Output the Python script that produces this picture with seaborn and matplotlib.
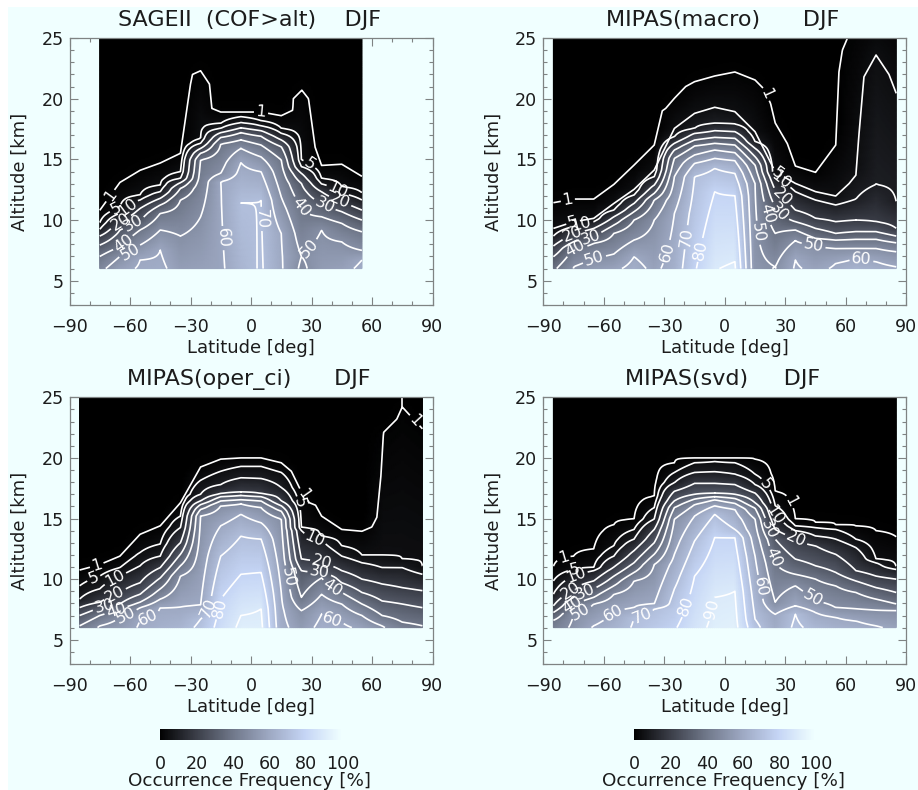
import numpy as np
import matplotlib
matplotlib.use("Agg")
import matplotlib.pyplot as plt
from matplotlib.patches import Rectangle
from matplotlib.ticker import MultipleLocator
import seaborn as sns

N = np.nan
LEVELS = [1, 5, 10, 20, 30, 40, 50, 60, 70, 80, 90]

lat_sage = [-75, -65, -55, -45, -35, -25, -15, -5, 5, 15, 25, 35, 45, 55]
lat_mipas = [-85, -75, -65, -55, -45, -35, -25, -15, -5, 5, 15, 25, 35, 45, 55, 65, 75, 85]

# Frequency at the lowest altitude (6 km), per latitude
sage_base = [47, 57, 61, 62, 56, 57, 58.5, 66, 71, 61, 48, 55, 57, 62]
macro_base = [38, 50, 55, 58, 63, 58, 64, 79, 89.7, 91, 53, 49.5, 61, 58, 61, 65, 63, 61]
oper_base = [42, 51, 55, 61, 64, 66, 72, 84, 92, 92, 63, 55, 63, 62, 58, 51, 44, 41]
svd_base = [44, 52, 61, 65, 71, 75, 79, 87, 92, 93, 73, 62, 72, 67, 64, 63, 61, 58]

# Altitude (km) of each contour level, per latitude
sage_alt = {
    1: [10.8, 13.1, 14.1, 14.7, 15.5, 22.3, 18.9, 18.9, 18.9, 18.6, 20.7, 14.5, 14.6, 13.6],
    5: [9.78, 11.04, 12.06, 12.88, 13.98, 16.73, 17.97, 18.52, 18.19, 17.55, 14.95, 13.43, 12.75, 12.25],
    10: [9.23, 10.55, 11.65, 12.33, 13.43, 16.32, 17.55, 18.02, 17.75, 17.14, 14.4, 12.97, 12.2, 11.65],
    20: [8.68, 9.86, 10.96, 11.79, 13.08, 15.9, 17.2, 17.6, 17.36, 16.6, 13.85, 12.33, 11.5, 10.82],
    30: [7.94, 9.18, 10, 11.24, 12.6, 15.5, 16.8, 17.2, 16.9, 16.04, 13.02, 11.37, 10.69, 10],
    40: [7, 7.8, 9.18, 10.55, 11.65, 14.95, 16.26, 16.6, 16.18, 14.95, 10.96, 10.27, 9.73, 9.04],
    50: [N, 7, 7.94, 9.18, 8.68, 10.27, 13.85, 15.9, 15.2, 11.9, 7, 9.18, 8.2, 7.5],
    60: [N, N, 6.7, 7.5, N, N, 13.16, 14.73, 13.98, 8.9, N, N, N, 6.7],
    70: [N, N, N, N, N, N, N, 11.4, 11.65, N, N, N, N, N],
}
macro_alt = {
    1: [11.43, 11.73, 11.73, 12.94, 14.53, 16.18, 20.03, 21.4, 21.87, 22.2, 21.54, 17.97, 14.45, 13.93, 16.18, 27, 27, 27],
    5: [9.31, 9.86, 10.14, 11.37, 12.53, 14.12, 17.55, 18.79, 19.29, 18.93, 17.28, 13.98, 13.02, 12.34, 11.98, 14.4, 23.6, 20.44],
    10: [8.68, 9.45, 9.86, 10.82, 12.06, 13.57, 16.87, 17.55, 17.97, 17.91, 16.46, 13.57, 12.34, 11.65, 11.24, 11.73, 12.94, 11.51],
    20: [7.86, 8.9, 9.31, 10.27, 11.37, 12.88, 16.32, 17.14, 17.36, 17.28, 15.91, 12.47, 10.82, 10.14, 9.86, 10, 9.86, 9.31],
    30: [6.98, 8.21, 8.63, 9.59, 10.69, 12.2, 15.77, 16.59, 16.81, 16.73, 15.22, 11.1, 9.86, 9.31, 8.9, 9.04, 9.04, 8.68],
    40: [N, 7.66, 8.08, 8.9, 10, 11.65, 15.08, 16.1, 16.32, 16.18, 14.53, 8.9, 9.18, 8.49, 8.35, 8.41, 8.41, 8.13],
    50: [N, 6.15, 6.84, 7.2, 8.35, 10, 13.57, 15.36, 15.77, 15.55, 13.0, 6.15, 8.3, 7.94, 7.66, 7.66, 7.66, 7.39],
    60: [N, N, N, N, 6.98, N, 10.55, 14.67, 15.08, 14.89, N, N, 6.7, N, 6.43, 6.84, 6.57, 6.15],
    70: [N, N, N, N, N, N, N, 13.57, 14.26, 13.85, N, N, N, N, N, N, N, N],
    80: [N, N, N, N, N, N, N, N, 12.34, 12.0, N, N, N, N, N, N, N, N],
    90: [N, N, N, N, N, N, N, N, N, 6.57, N, N, N, N, N, N, N, N],
}
oper_alt = {
    1: [10.75, 11.2, 11.9, 13.7, 14.4, 16.3, 19.25, 19.9, 20, 20, 19.6, 17.25, 15.2, 14.1, 13.95, 22, 24, 22.3],
    5: [9.45, 10.25, 10.95, 12.2, 12.9, 15.2, 18.15, 18.9, 19.3, 19.3, 18.8, 14.25, 13.55, 12.75, 12, 12, 11.65, 11.05],
    10: [8.35, 9.2, 10.25, 11.1, 11.9, 14.25, 17, 17.8, 18.35, 18.3, 17.55, 14, 13.15, 11.9, 11.35, 10.95, 10.95, 10.4],
    20: [7.65, 8.1, 8.9, 9.7, 10.95, 13, 16.45, 17.05, 17.2, 17.05, 16.45, 11.65, 11.35, 10.7, 10, 9.6, 9.3, 9.05],
    30: [7, 7.65, 7.95, 8.75, 10.1, 12.05, 16.15, 16.8, 16.9, 16.8, 16.05, 10.7, 10.55, 9.7, 8.9, 8.2, 7.95, 7.65],
    40: [6.15, 7, 7.55, 8.1, 9.2, 11.1, 15.75, 16.45, 16.55, 16.45, 15.6, 8.5, 10.1, 8.9, 7.95, 7, 6.45, 6.15],
    50: [N, 6.15, 6.85, 7.65, 8.35, 10.25, 15.2, 16.05, 16.2, 15.9, 14.95, 7.4, 8.75, 7.95, 7, 6.15, N, N],
    60: [N, N, N, 6.7, 7.65, 7.7, 7.85, 14.4, 15.35, 14.65, 8.9, N, 7.1, 6.45, N, N, N, N],
    70: [N, N, N, N, N, N, 6.7, 11.9, 13.55, 13.3, N, N, N, N, N, N, N, N],
    80: [N, N, N, N, N, N, N, 8.35, 10.4, 10.55, N, N, N, N, N, N, N, N],
    90: [N, N, N, N, N, N, N, N, 7, 7.55, N, N, N, N, N, N, N, N],
}
svd_alt = {
    1: [11.05, 11.9, 12.5, 14.5, 14.95, 16.85, 19.6, 20, 20, 20, 19.9, 17.25, 14.95, 14.7, 14.5, 14.4, 14, 13.5],
    5: [9.85, 10.8, 10.95, 12.75, 14.1, 15.9, 18.8, 19.6, 19.7, 19.6, 18.65, 16.05, 14.4, 14.25, 14.1, 13.3, 11.65, 11.05],
    10: [8.75, 10.25, 10.7, 11.9, 13.3, 14.95, 17.95, 18.8, 18.85, 18.65, 17.8, 15.2, 14, 13.55, 13.3, 12.6, 11.35, 10.8],
    20: [7.8, 9.2, 9.85, 11, 12.35, 14.1, 17.25, 17.9, 17.9, 17.8, 17.1, 14.1, 13.3, 12.75, 12.05, 10.7, 10.25, 10],
    30: [7.25, 8.5, 9.2, 10.25, 11.35, 13, 16.45, 17, 17.1, 17, 16.3, 13.3, 11.65, 11.1, 10.55, 9.85, 9.3, 8.9],
    40: [6.6, 7.95, 8.5, 9.45, 10.55, 12.05, 15.9, 16.6, 16.8, 16.65, 15.85, 11.35, 10.4, 10, 9.45, 8.9, 8.35, 7.95],
    50: [N, 7.1, 7.95, 8.75, 9.85, 11.2, 14.95, 16.15, 16.55, 16.25, 14.95, 8.1, 9.45, 8.2, 7.65, 7.55, 7.45, 7.4],
    60: [N, N, 6.15, 7.25, 7.65, 7.95, 12.05, 15.2, 16.05, 15.75, 11.9, 7.1, 7.8, 7.25, 6.85, 6.55, 6.15, N],
    70: [N, N, N, N, 6.85, 7.55, 9.2, 13.15, 15.35, 14.1, 6.7, N, 7.1, N, N, N, N, N],
    80: [N, N, N, N, N, N, N, 10.25, 13.45, 13.4, N, N, N, N, N, N, N, N],
    90: [N, N, N, N, N, N, N, N, 8.5, 9, N, N, N, N, N, N, N, N],
}

# Steep low-frequency contours, read at their own kinks
sage_line1_lat = [-75, -65, -55, -45, -35, -30, -29, -25, -20.6, -19.4, -15, -5, 5, 15, 20.7, 21, 25.2, 28.5, 31.8, 35, 45, 55]
sage_line1_alt = [10.8, 13.1, 14.1, 14.7, 15.5, 21.2, 22, 22.3, 21.2, 19.2, 18.9, 18.9, 18.9, 18.6, 19.05, 20, 20.7, 20, 16, 14.5, 14.6, 13.6]
macro_line1_lat = [-85, -75, -65, -55, -45, -35, -31, -29.3, -25, -19.4, -15, -5, 5, 15, 19.4, 22.7, 25, 31, 35, 45, 55, 56.6, 58.3, 61.6, 65, 85]
macro_line1_alt = [11.43, 11.73, 11.73, 12.94, 14.53, 16.18, 19, 19.2, 20.03, 21, 21.4, 21.87, 22.2, 21.54, 20.8, 19.6, 18, 16.3, 14.45, 13.93, 16.18, 22.2, 24, 25.3, 27, 27]
macro_line5_lat = [-85, -75, -65, -55, -45, -35, -25, -15, -5, 5, 15, 25, 35, 45, 55, 61.6, 65, 66.5, 69, 75, 81.4, 85]
macro_line5_alt = [9.31, 9.86, 10.14, 11.37, 12.53, 14.12, 17.55, 18.79, 19.29, 18.93, 17.28, 13.98, 13.02, 12.34, 11.98, 13, 13.7, 17, 21.8, 23.6, 22, 20.44]
oper_line1_lat = [-85, -75, -65, -55, -45, -35, -25, -15, -5, 5, 15, 20, 25, 29, 32, 35, 45, 55, 59.9, 62.4, 64.4, 65.7, 72.3, 75, 85]
oper_line1_alt = [10.75, 11.2, 11.9, 13.7, 14.4, 16.3, 19.25, 19.9, 20, 20, 19.6, 18.9, 17.2, 16.3, 16.1, 15.2, 14.1, 13.95, 14.3, 15.1, 18.5, 22.1, 23.2, 24.2, 22.4]
oper_stub_lat = [75, 75]
oper_stub_alt = [24.2, 25]

titles = ["SAGEII  (COF>alt)    DJF", "MIPAS(macro)      DJF", "MIPAS(oper_ci)      DJF", "MIPAS(svd)     DJF"]
x_ticks = [-90, -60, -30, 0, 30, 60, 90]
y_ticks = [5, 10, 15, 20, 25]
cbar_ticks = [0, 20, 40, 60, 80, 100]

# Hand placement of the contour labels: level -> (lat, alt)
sage_labels = {1: [(-68, 11.8), (5, 19)], 5: [(28.5, 14.5), (-66, 10.5)], 10: [(-59, 10.7), (42.5, 12.3)],
               20: [(-63, 9.3), (44, 11.5)], 30: [(-56.6, 9.2), (36, 11.1)], 40: [(-62.4, 7.9), (21, 10.7)],
               50: [(-60, 7.4), (27.7, 7.8)], 60: [(-15.3, 8.5)], 70: [(7, 10.1)]}
macro_labels = {1: [(-78, 11.8), (21, 20.4)], 5: [(-75.6, 10), (27.7, 14.25)], 10: [(-71, 9.6), (27, 13.1)],
                20: [(-75, 8.8), (27.7, 11.8)], 30: [(-66.5, 8.5), (27.7, 10.75)], 40: [(-74, 7.65), (21, 10.55)],
                50: [(-65, 7), (18.6, 9), (44, 7.85)], 60: [(-31, 7.5), (68, 7)], 70: [(-20, 8.6)], 80: [(-14, 7.6)]}
oper_labels = {1: [(-76.4, 11.1), (25, 16.85), (80.6, 23)], 5: [(-78.4, 10.25), (22.4, 16.2)],
               10: [(-67.9, 10.25), (32, 13.55)], 20: [(-67.4, 8.75), (35.6, 11.55)], 30: [(-73, 7.95), (34, 10.8)],
               40: [(-67.4, 7.65), (41, 9.45)], 50: [(-63, 7.4), (20, 10.2)], 60: [(-51.6, 7.25), (41.7, 7.4)],
               70: [(-21, 7.65)], 80: [(-15.6, 7.65)]}
svd_labels = {1: [(-79.8, 11.65), (31.5, 16.3)], 5: [(-74.8, 11), (19, 17.7)], 10: [(-74, 10.4), (22.7, 15.2)],
              20: [(-74.8, 8.7), (34.3, 13)], 30: [(-68, 8.5), (18.6, 13.85)], 40: [(-74, 7.65), (21.6, 11.65)],
              50: [(-71.5, 7.25), (43, 8.3)], 60: [(-55.8, 7.3), (15.6, 9.3)], 70: [(-41.7, 7.5)], 80: [(-19, 7.8)],
              90: [(-9.8, 7.65)]}

W, H = 918, 790
AZURE = "#F0FFFF"
GRAY = "#7f8383"
TEXT = "#1c1c1c"

sns.set_theme(style="ticks")
plt.rcParams["font.family"] = ["DejaVu Sans"]
cmap = sns.blend_palette(
    ["#000000", "#3a3d47", "#6f7789", "#9da8c2", "#c5d5f5", AZURE], n_colors=256, as_cmap=True
)


def build_field(lats, base, crossings):
    """Turn the contour altitudes of each latitude column into a frequency field."""
    alts = np.arange(6, 25.01, 0.1)
    columns = []
    for i in range(len(lats)):
        pts = [(6.0, base[i])]
        for level in LEVELS:
            if level in crossings and not np.isnan(crossings[level][i]):
                pts.append((crossings[level][i], level))
        pts.append((crossings[1][i] + 1.5, 0.0))
        pts.sort()
        columns.append(np.interp(alts, [p[0] for p in pts], [p[1] for p in pts]))
    coarse = np.array(columns)
    lat_f = np.arange(lats[0], lats[-1] + 0.01, 1.0)
    fine = np.array([np.interp(lat_f, lats, coarse[:, j]) for j in range(len(alts))])
    return lat_f, alts, fine


def px_axes(x0, y0, x1, y1):
    return fig.add_axes([x0 / W, 1 - y1 / H, (x1 - x0) / W, (y1 - y0) / H])


fig = plt.figure(figsize=(W / 100, H / 100), dpi=100, facecolor="white")
fig.add_artist(Rectangle((8 / W, 0), 1 - 8 / W, 1 - 7 / H, transform=fig.transFigure,
                         facecolor=AZURE, edgecolor="none", zorder=-10))

panels = [
    (lat_sage, sage_base, sage_alt, sage_labels, (69.5, 38, 432.5, 305),
     {1: (sage_line1_lat, sage_line1_alt)}),
    (lat_mipas, macro_base, macro_alt, macro_labels, (543.3, 38, 906.3, 305),
     {1: (macro_line1_lat, macro_line1_alt), 5: (macro_line5_lat, macro_line5_alt)}),
    (lat_mipas, oper_base, oper_alt, oper_labels, (69.5, 397.3, 432.5, 664),
     {1: (oper_line1_lat, oper_line1_alt)}),
    (lat_mipas, svd_base, svd_alt, svd_labels, (543.3, 397.3, 906.3, 664), {}),
]

LW = 1.2
mesh = None
for idx, ((lats, base, crossings, labels, box, lines), title) in enumerate(zip(panels, titles)):
    ax = px_axes(*box)
    ax.set_facecolor(AZURE)
    ax.set_axisbelow(True)
    ax.set_xlim(-90, 90)
    ax.set_ylim(3, 25)
    lat_f, alts, field = build_field(lats, base, crossings)
    mesh = ax.pcolormesh(lat_f, alts, field, cmap=cmap, vmin=0, vmax=100, shading="gouraud", zorder=1)
    for level in crossings:
        if level in lines:
            lat_l = np.arange(lats[0], lats[-1] + 0.01, 0.2)
            top = np.interp(lat_l, lines[level][0], lines[level][1])
            cs = ax.contour(lat_l, alts, top[None, :] - alts[:, None], levels=[0],
                            colors="white", linewidths=LW, zorder=2)
            fmt = {0: str(level)}
        else:
            cs = ax.contour(lat_f, alts, field, levels=[level], colors="white", linewidths=LW, zorder=2)
            fmt = "%d"
        if level in labels:
            ax.clabel(cs, fmt=fmt, fontsize=11.5, colors="white", inline=True, inline_spacing=2,
                      manual=labels[level])
    if idx == 2:
        ax.plot(oper_stub_lat, oper_stub_alt, color="white", lw=LW, zorder=2)
    ax.set_xticks(x_ticks)
    ax.set_yticks(y_ticks)
    ax.xaxis.set_minor_locator(MultipleLocator(10))
    ax.yaxis.set_minor_locator(MultipleLocator(1))
    ax.tick_params(which="both", direction="in", top=True, right=True, color=GRAY, width=0.8)
    ax.tick_params(which="major", length=5.5, labelsize=12.6, labelcolor=TEXT)
    ax.tick_params(which="minor", length=2.8)
    ax.tick_params(axis="x", which="major", pad=9.5)
    ax.tick_params(axis="y", which="major", pad=4.3)
    for spine in ax.spines.values():
        spine.set_color(GRAY)
        spine.set_linewidth(0.9)
    ax.set_xlabel("Latitude [deg]", fontsize=13, color=TEXT, va="center")
    ax.set_ylabel("Altitude [km]", fontsize=13, color=TEXT, va="center")
    ax.xaxis.set_label_coords(0.5, -0.161)
    ax.yaxis.set_label_coords(-0.137, 0.5)
    ax.text(0.495, 1.067, title, transform=ax.transAxes, ha="center", va="center", fontsize=16, color=TEXT)

for x0, x1 in [(160, 343), (634, 816)]:
    cax = px_axes(x0, 729, x1, 740)
    cb = fig.colorbar(mesh, cax=cax, orientation="horizontal", ticks=cbar_ticks)
    cb.outline.set_visible(False)
    cb.solids.set_edgecolor("face")
    cax.tick_params(length=0, pad=10.5, labelsize=12.6, labelcolor=TEXT)
    cax.set_xlabel("Occurrence Frequency [%]", fontsize=13.2, color=TEXT, va="center")
    cax.xaxis.set_label_coords(0.49, -3.7)

fig.savefig("out.png", dpi=100, facecolor=fig.get_facecolor())
